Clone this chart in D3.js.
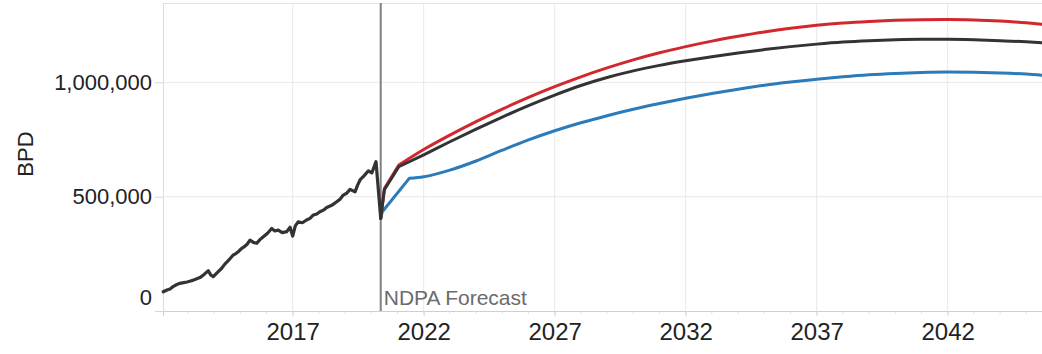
<!DOCTYPE html>
<html>
<head>
<meta charset="utf-8">
<script src="https://cdn.jsdelivr.net/npm/d3@7"></script>
<style>
  html, body { margin: 0; padding: 0; background: #fff; }
  svg { display: block; font-family: "Liberation Sans", Arial, sans-serif; }
</style>
</head>
<body>
<svg id="chart" width="1042" height="354"></svg>
<script>
// ---- data ----
const histYears = [2012.06, 2012.20, 2012.32, 2012.45, 2012.58, 2012.70, 2012.84, 2012.97, 2013.10, 2013.21,
  2013.34, 2013.46, 2013.62, 2013.78, 2013.87, 2013.97, 2014.12, 2014.29, 2014.41, 2014.53,
  2014.63, 2014.73, 2014.82, 2014.92, 2015.03, 2015.14, 2015.26, 2015.37, 2015.50, 2015.63,
  2015.75, 2015.88, 2016.04, 2016.20, 2016.32, 2016.45, 2016.60, 2016.77, 2016.90, 2017.00,
  2017.10, 2017.21, 2017.37, 2017.53, 2017.66, 2017.79, 2017.92, 2018.04, 2018.17, 2018.30,
  2018.49, 2018.68, 2018.80, 2018.93, 2019.06, 2019.19, 2019.38, 2019.47, 2019.57, 2019.73,
  2019.89, 2020.02, 2020.10, 2020.18, 2020.36];
const histValues = [84000, 92000, 96000, 108000, 116000, 121000, 124000, 127000, 131000, 135000,
  141000, 146000, 160000, 176000, 158000, 150000, 168000, 187000, 205000, 219000,
  232000, 245000, 250000, 259000, 272000, 280000, 292000, 310000, 300000, 296000,
  312000, 325000, 340000, 361000, 350000, 354000, 343000, 347000, 366000, 328000,
  372000, 390000, 386000, 398000, 405000, 420000, 424000, 434000, 441000, 453000,
  462000, 478000, 488000, 507000, 515000, 532000, 521000, 548000, 573000, 592000,
  613000, 604000, 628000, 653000, 405000];

const fcYears = [2022, 2023, 2024, 2025, 2026, 2027, 2028, 2029, 2030, 2031, 2032, 2033, 2034,
  2035, 2036, 2037, 2038, 2039, 2040, 2041, 2042, 2043, 2044, 2045, 2045.6];
const baseValues = [683000, 740000, 795000, 848000, 898000, 944000, 986000, 1021000, 1050000, 1074000,
  1094000, 1112000, 1128000, 1143000, 1156000, 1167000, 1176000, 1182000, 1186000, 1188000,
  1188000, 1186000, 1182000, 1177000, 1173000];
const highValues = [706000, 769000, 828000, 883000, 934000, 981000, 1024000, 1063000, 1098000, 1129000,
  1156000, 1180000, 1201000, 1220000, 1236000, 1249000, 1259000, 1266000, 1271000, 1274000,
  1275000, 1273000, 1268000, 1260000, 1254000];
const lowValues = [587000, 616000, 656000, 703000, 748000, 788000, 823000, 854000, 882000, 907000,
  930000, 951000, 970000, 987000, 1001000, 1013000, 1024000, 1033000, 1039000, 1043000,
  1045000, 1044000, 1041000, 1036000, 1031000];

// early forecast ramp after the 2020 dip
const baseStartYears = [2020.36, 2020.50, 2021.05];
const baseStartValues = [405000, 530000, 631000];
const highStartYears = [2020.36, 2020.50, 2021.05];
const highStartValues = [405000, 535000, 638000];
const lowStartYears = [2020.36, 2020.42, 2021.45];
const lowStartValues = [405000, 434000, 580000];

const forecastYear = 2020.36;
const forecastLabel = "NDPA Forecast";
const xTickYears = [2017, 2022, 2027, 2032, 2037, 2042];
const yTickValues = [0, 500000, 1000000];
const yLabel = "BPD";

// ---- layout ----
const svg = d3.select("#chart");
const pL = 163, pR = 1042, pT = 3, pB = 311;
const x = d3.scaleLinear().domain([2012.05, 2045.6]).range([pL, pR]);
const y = d3.scaleLinear().domain([0, 1346800]).range([pB, pT]);

// gridlines
svg.append("g").selectAll("line").data(xTickYears).join("line")
  .attr("x1", d => x(d)).attr("x2", d => x(d)).attr("y1", pT).attr("y2", pB)
  .attr("stroke", "#e9e9e9").attr("stroke-width", 1);
svg.append("g").selectAll("line").data(yTickValues.filter(v => v > 0)).join("line")
  .attr("x1", pL).attr("x2", pR).attr("y1", d => y(d)).attr("y2", d => y(d))
  .attr("stroke", "#e9e9e9").attr("stroke-width", 1);

// frame
svg.append("line").attr("x1", pL).attr("x2", pR).attr("y1", pT + 0.5).attr("y2", pT + 0.5)
  .attr("stroke", "#e2e2e2");
svg.append("line").attr("x1", pL + 0.5).attr("x2", pL + 0.5).attr("y1", pT).attr("y2", pB)
  .attr("stroke", "#dcdcdc");

// x axis
const minorYears = d3.range(2013, 2046);
svg.append("g").selectAll("line").data(minorYears).join("line")
  .attr("x1", d => x(d)).attr("x2", d => x(d)).attr("y1", pB).attr("y2", pB + 3)
  .attr("stroke", "#e4e4e4");
const xAxis = svg.append("g").attr("transform", `translate(0,${pB})`)
  .call(d3.axisBottom(x).tickValues(xTickYears).tickFormat(d3.format("d")).tickSize(5).tickPadding(7));
xAxis.select(".domain").attr("stroke", "#cfcfcf");
xAxis.selectAll(".tick line").attr("stroke", "#d6d6d6");
xAxis.selectAll("text").attr("font-size", 24).attr("fill", "#222")
  .attr("font-family", "'Liberation Sans', Arial, sans-serif");

// y axis
const yAxis = svg.append("g").attr("transform", `translate(${pL},0)`)
  .call(d3.axisLeft(y).tickValues(yTickValues).tickFormat(d3.format(",")).tickSize(8).tickPadding(3));
yAxis.select(".domain").remove();
yAxis.selectAll(".tick line").attr("stroke", "#d6d6d6");
yAxis.selectAll("text").attr("font-size", 22).attr("fill", "#222")
  .attr("font-family", "'Liberation Sans', Arial, sans-serif");
yAxis.selectAll(".tick").filter(d => d === 0).select("text").attr("dy", "-0.3em");

// y label
svg.append("text").attr("transform", "translate(33,154) rotate(-90)")
  .attr("text-anchor", "middle").attr("font-size", 22).attr("fill", "#222").text(yLabel);

// forecast marker
svg.append("line").attr("x1", x(forecastYear)).attr("x2", x(forecastYear))
  .attr("y1", pT).attr("y2", pB).attr("stroke", "#808080").attr("stroke-width", 2);
svg.append("text").attr("x", x(forecastYear) + 3).attr("y", 305)
  .attr("font-size", 21).attr("fill", "#6b6b6b").text(forecastLabel);

// lines
const smooth = d3.line().x(d => x(d[0])).y(d => y(d[1])).curve(d3.curveMonotoneX);
const straight = d3.line().x(d => x(d[0])).y(d => y(d[1]));
const zip = (a, b) => a.map((v, i) => [v, b[i]]);

function drawForecast(sy, sv, vals, color) {
  const ramp = zip(sy, sv);
  const rest = [ramp[ramp.length - 1]].concat(zip(fcYears, vals));
  const d = straight(ramp) + "L" + smooth(rest).slice(1);
  svg.append("path").attr("d", d).attr("fill", "none")
    .attr("stroke", color).attr("stroke-width", 3)
    .attr("stroke-linejoin", "round").attr("stroke-linecap", "round");
}
drawForecast(lowStartYears, lowStartValues, lowValues, "#2b7bba");
drawForecast(highStartYears, highStartValues, highValues, "#d2272d");
drawForecast(baseStartYears, baseStartValues, baseValues, "#333333");

svg.append("path").attr("d", straight(zip(histYears, histValues))).attr("fill", "none")
  .attr("stroke", "#333333").attr("stroke-width", 3.2)
  .attr("stroke-linejoin", "round").attr("stroke-linecap", "round");
</script>
</body>
</html>
